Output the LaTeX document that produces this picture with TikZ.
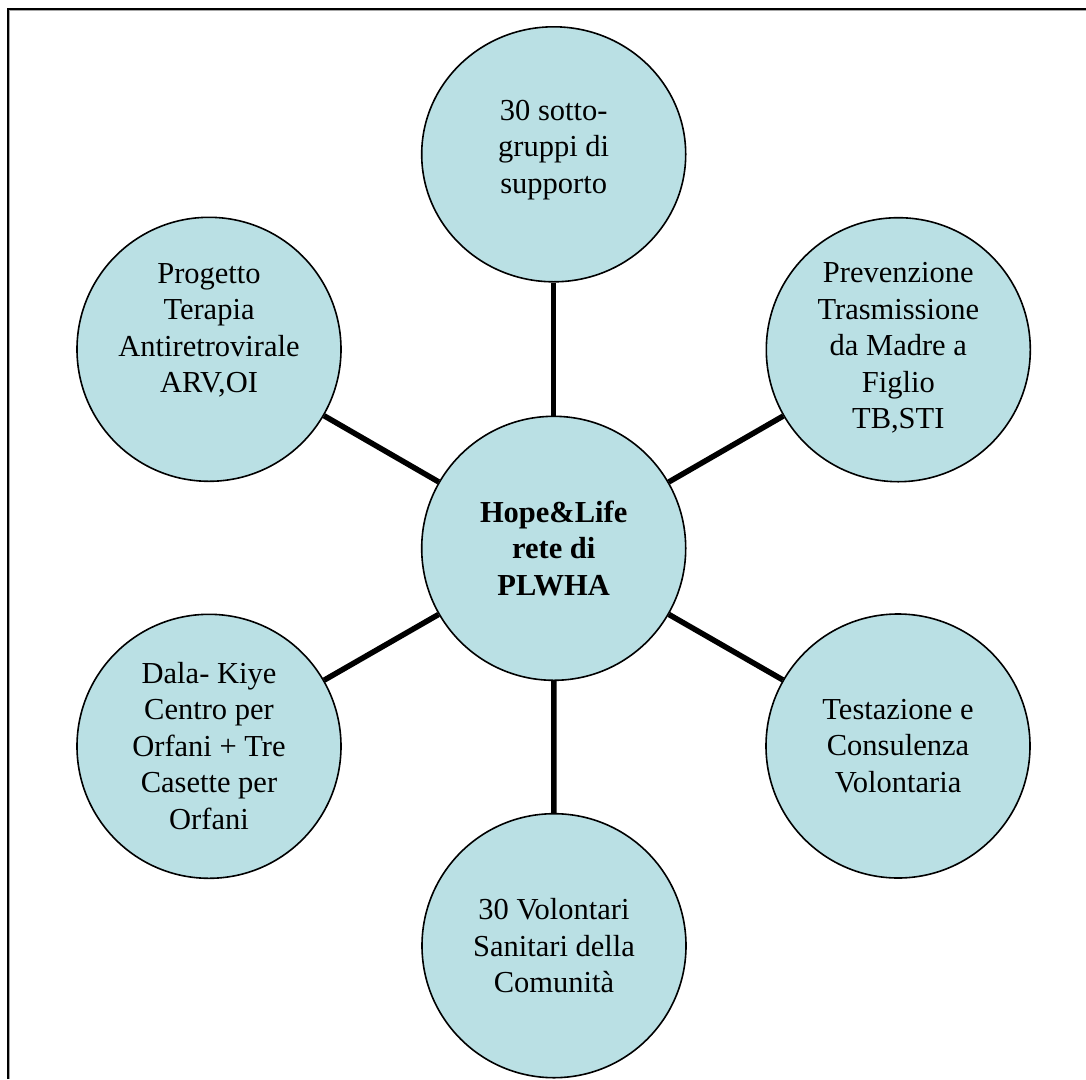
\documentclass[tikz,border=0pt]{standalone}
\usepackage{fontspec}
\setmainfont{Liberation Serif}
\usetikzlibrary{shapes.geometric}
\definecolor{bubble}{RGB}{186,224,228}
\begin{document}
\begin{tikzpicture}[x=1pt,y=-1pt,
  bub/.style={circle,draw=black,line width=1.6pt,fill=bubble,minimum size=264pt,inner sep=0pt},
  lbl/.style={align=center,font=\fontsize{30.5}{36.5}\selectfont,inner sep=0pt},
  conn/.style={line width=5.5pt,draw=black}]
\useasboundingbox (0,0) rectangle (1086,1079);
\fill[white] (0,0) rectangle (1086,1079);
% frame
\draw[black!35,line width=1pt] (9.2,1079) -- (9.2,10.5) -- (1086,10.5);
\draw[black,line width=2pt] (7.7,1079) -- (7.7,9) -- (1086,9);
% bubbles
\node[bub] (c) at (553.7,548.3) {};
\node[bub,ellipse,minimum width=264pt,minimum height=255pt] (top) at (553.7,154.3) {};
\node[bub] (lt) at (209,349.3) {};
\node[bub] (rt) at (898.3,349.7) {};
\node[bub] (lb) at (209,746.3) {};
\node[bub] (rb) at (898,746) {};
\node[bub] (bot) at (554,945.7) {};
% connectors
\draw[conn] (c) -- (top);
\draw[conn] (c) -- (lt);
\draw[conn] (c) -- (rt);
\draw[conn] (c) -- (lb);
\draw[conn] (c) -- (rb);
\draw[conn] (c) -- (bot);
% texts
\node[lbl] (cT) at (c.center) {\bfseries Hope\&Life\\\bfseries rete di\\\bfseries PLWHA};
\node[lbl] (topT) at ([yshift=4.5pt]top.center) {30 sotto-\\gruppi di\\supporto};
\node[lbl] (ltT) at ([yshift=19pt]lt.center) {Progetto\\Terapia\\Antiretrovirale\\ARV,OI};
\node[lbl] (rtT) at ([yshift=1.6pt]rt.center) {Prevenzione\\Trasmissione\\da Madre a\\Figlio\\TB,STI};
\node[lbl] (lbT) at ([yshift=0.7pt]lb.center) {Dala- Kiye\\Centro per\\Orfani + Tre\\Casette per\\Orfani};
\node[lbl] (rbT) at (rb.center) {Testazione e\\Consulenza\\Volontaria};
\node[lbl] (botT) at (bot.center) {30 Volontari\\Sanitari della\\Comunità};
\end{tikzpicture}
\end{document}
